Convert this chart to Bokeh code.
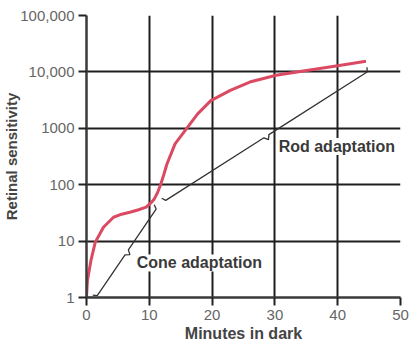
import math
from bokeh.plotting import figure
from bokeh.models import FixedTicker, Label, Range1d
from bokeh.embed import file_html
from bokeh.resources import INLINE

# ---- data ----
x_ticks = [0, 10, 20, 30, 40, 50]
y_ticks = [1, 10, 100, 1000, 10000, 100000]
y_tick_labels = ["1", "10", "100", "1000", "10,000", "100,000"]

sens_minutes = [0, 0.15, 0.7, 1.4, 2.7, 4.3, 5.6, 6.9, 8.3, 9.5, 10.2, 10.8, 11.3, 11.8,
                12.3, 12.8, 14.1, 15.9, 17.7, 19.8, 22.9, 26.0, 30.2, 34.8, 40.0, 44.5]
sens_values = [1, 2, 4.5, 9.6, 17.6, 26.5, 30, 32.5, 36, 40, 47, 56, 72, 100,
               150, 230, 530, 980, 1800, 3100, 4700, 6600, 8700, 10500, 12900, 15500]

cone_start = (1.5, 1.0)
cone_end = (11.3, 40.0)
rod_start = (12.3, 50.0)
rod_end = (45.0, 10500.0)

cone_text = (8.0, 4.1, "Cone adaptation")
rod_text = (30.6, 475.0, "Rod adaptation")

FONT = "Liberation Sans"

p = figure(width=410, height=345, y_axis_type="log",
           x_range=Range1d(0, 50), y_range=Range1d(1, 100000),
           output_backend="svg", toolbar_location=None,
           min_border_left=78, min_border_right=10,
           min_border_top=15, min_border_bottom=48)
p.outline_line_color = None
p.background_fill_color = "white"

p.xaxis.ticker = FixedTicker(ticks=x_ticks)
p.yaxis.ticker = FixedTicker(ticks=y_ticks)
p.yaxis.major_label_overrides = {float(t): l for t, l in zip(y_ticks, y_tick_labels)}
p.xaxis.minor_tick_line_color = None
p.yaxis.minor_tick_line_color = None

for ax in (p.xaxis, p.yaxis):
    ax.axis_line_width = 2.5
    ax.axis_line_color = "#3a3a3a"
    ax.major_tick_line_width = 2
    ax.major_tick_line_color = "#222222"
    ax.major_tick_out = 8
    ax.major_tick_in = 0
    ax.major_label_standoff = 4
    ax.major_label_text_font = FONT
    ax.major_label_text_font_size = "15px"
    ax.major_label_text_color = "#666666"
    ax.axis_label_text_font = FONT
    ax.axis_label_text_font_style = "bold"
    ax.axis_label_text_color = "#444444"

p.xaxis.axis_label = "Minutes in dark"
p.yaxis.axis_label = "Retinal sensitivity"
p.xaxis.axis_label_text_font_size = "16px"
p.yaxis.axis_label_text_font_size = "15px"
p.xaxis.axis_label_standoff = 2
p.yaxis.axis_label_standoff = -3

for g in (p.xgrid, p.ygrid):
    g.grid_line_color = "#1e1e1e"
    g.grid_line_width = 2
    g.grid_line_alpha = 1.0

# red sensitivity curve
p.line(sens_minutes, sens_values, line_color="#db4a63", line_width=3)

# braces (decoration geometry built in approx. screen proportions)
SX, SY = 6.446, 56.4  # px per minute, px per decade


def brace(start, end, hook=4.0, spike=4.0):
    X0, Y0 = start[0] * SX, math.log10(start[1]) * SY
    X1, Y1 = end[0] * SX, math.log10(end[1]) * SY
    L = math.hypot(X1 - X0, Y1 - Y0)
    dx, dy = (X1 - X0) / L, (Y1 - Y0) / L
    nx, ny = dy, -dx  # normal towards lower right
    Mx, My = (X0 + X1) / 2, (Y0 + Y1) / 2
    pts = [
        (X0 - nx * hook, Y0 - ny * hook),
        (X0 + dx * hook * 0.6, Y0 + dy * hook * 0.6),
        (Mx - dx * 3, My - dy * 3),
        (Mx + nx * spike, My + ny * spike),
        (Mx + dx * 3, My + dy * 3),
        (X1 - dx * hook * 0.6, Y1 - dy * hook * 0.6),
        (X1 - nx * hook, Y1 - ny * hook),
    ]
    xs = [a / SX for a, b in pts]
    ys = [10 ** (b / SY) for a, b in pts]
    return xs, ys


for s, e in ((cone_start, cone_end), (rod_start, rod_end)):
    bx, by = brace(s, e)
    p.line(bx, by, line_color="#333333", line_width=1.3)

# cone brace runs flat along the baseline from the origin
p.line([0.2, cone_start[0]], [1.0, 1.0], line_color="#333333", line_width=1.3)

for tx, ty, tt in (cone_text, rod_text):
    p.add_layout(Label(x=tx, y=ty, text=tt, text_baseline="middle",
                       text_font=FONT, text_font_size="16px",
                       text_font_style="bold", text_color="#3a3a3a",
                       background_fill_color="white", background_fill_alpha=1.0))

open("out.html", "w").write(file_html(p, INLINE))
